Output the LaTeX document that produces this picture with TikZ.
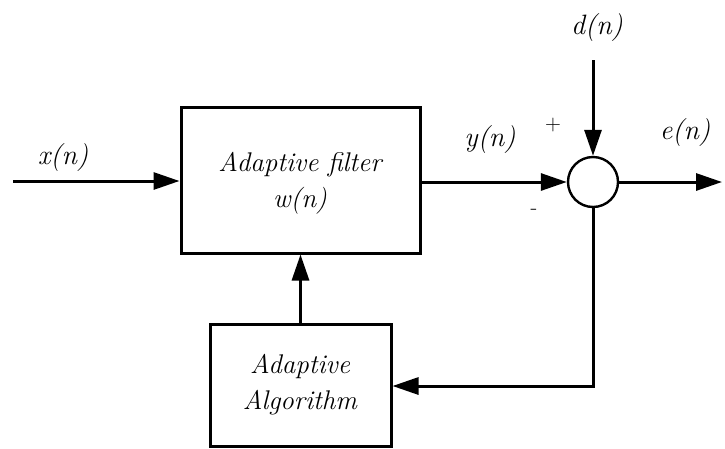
\documentclass[tikz,border=0pt]{standalone}
\usepackage{fontspec}
\usetikzlibrary{arrows.meta}
\begin{document}
\begin{tikzpicture}[x=1pt,y=-1pt,
  blk/.style={draw,line width=3pt,inner sep=0pt},
  lbl/.style={font=\fontsize{28}{32}\selectfont\itshape},
  btxt/.style={font=\fontsize{27}{36}\selectfont\itshape,align=center},
  sgn/.style={font=\fontsize{22}{24}\selectfont},
  conn/.style={line width=3pt,-{Triangle[length=26pt,width=17pt]}}]
\useasboundingbox (0,0) rectangle (725,448);
\node[blk,minimum width=239pt,minimum height=146pt] (filt) at (300.5,180) {};
\node[btxt] (ftxt) at (300,183) {Adaptive filter\\w(n)};
\node[blk,minimum width=181pt,minimum height=122pt] (alg) at (300.5,385) {};
\node[btxt] (atxt) at (300,385) {Adaptive\\Algorithm};
\node[draw,circle,line width=2.4pt,minimum size=50pt,inner sep=0pt] (sum) at (593,182) {};
\coordinate (xin) at (13,181);
\coordinate (din) at (593,60);
\coordinate (eout) at (722,182);
\coordinate (corner) at (593,386);
\draw[conn] (xin) -- (filt.west |- xin);
\draw[conn] (filt.east |- sum) -- (sum.west);
\draw[conn] (din) -- (sum.north);
\draw[conn] (sum.east) -- (eout);
\draw[conn] (alg.north) -- (filt.south);
\draw[conn] (sum.south) -- (corner) -- (alg.east |- corner);
\node[lbl] (xl) at (63,158) {x(n)};
\node[lbl] (yl) at (490,140) {y(n)};
\node[lbl] (el) at (685,133) {e(n)};
\node[lbl] (dl) at (597,28) {d(n)};
\node[sgn] (plus) at (553,125) {+};
\node[sgn] (minus) at (534,212) {-};
\end{tikzpicture}
\end{document}
